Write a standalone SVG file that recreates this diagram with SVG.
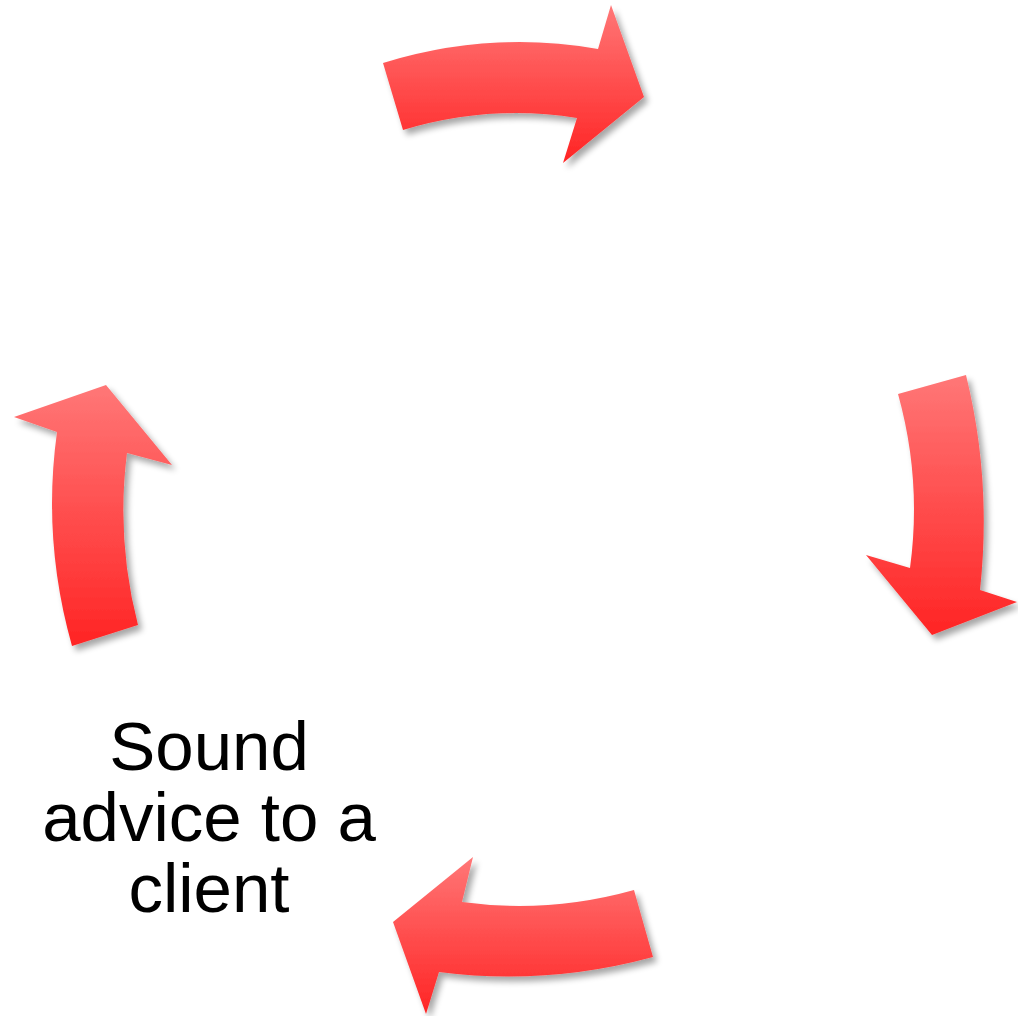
<svg xmlns="http://www.w3.org/2000/svg" width="1018" height="1016" viewBox="0 0 1018 1016">
<defs>
<linearGradient id="red" x1="0" y1="0" x2="0" y2="1">
<stop offset="0" stop-color="#ff7777"/>
<stop offset="1" stop-color="#ff2424"/>
</linearGradient>
<filter id="shadow" x="-20%" y="-20%" width="140%" height="140%">
<feGaussianBlur in="SourceAlpha" stdDeviation="3"/>
<feOffset dx="4" dy="5" result="b"/>
<feComponentTransfer><feFuncA type="linear" slope="0.35"/></feComponentTransfer>
<feMerge><feMergeNode/><feMergeNode in="SourceGraphic"/></feMerge>
</filter>
</defs>
<style>
.arrow{fill:url(#red);filter:url(#shadow);}
.label{font-family:"Liberation Sans",Arial,sans-serif;font-size:69px;fill:#000;text-anchor:middle;}
</style>
<g id="connectors">
<path id="arrow-top" class="arrow" d="M383,63 Q490,30 598,49 L611,5 L644,97 L563,163 L577,118 Q490,104 403,130 Z"/>
<path id="arrow-right" class="arrow" d="M898,394 L966,375 Q992,480 980,590 L1017,602 L932,635 L866,555 L910,568 Q922,480 898,394 Z"/>
<path id="arrow-bottom" class="arrow" d="M634,890 Q548,914 462,902 L473,857 L393,922 L426,1014 L439,972 Q546,986 653,957 Z"/>
<path id="arrow-left" class="arrow" d="M72,646 L138,625 Q116,540 127,453 L172,465 L106,385 L14,417 L57,432 Q42,540 72,646 Z"/>
</g>
<g id="node-sound-advice">
<text class="label" x="209" y="770">Sound</text>
<text class="label" x="209" y="841">advice to a</text>
<text class="label" x="209" y="912">client</text>
</g>
</svg>
